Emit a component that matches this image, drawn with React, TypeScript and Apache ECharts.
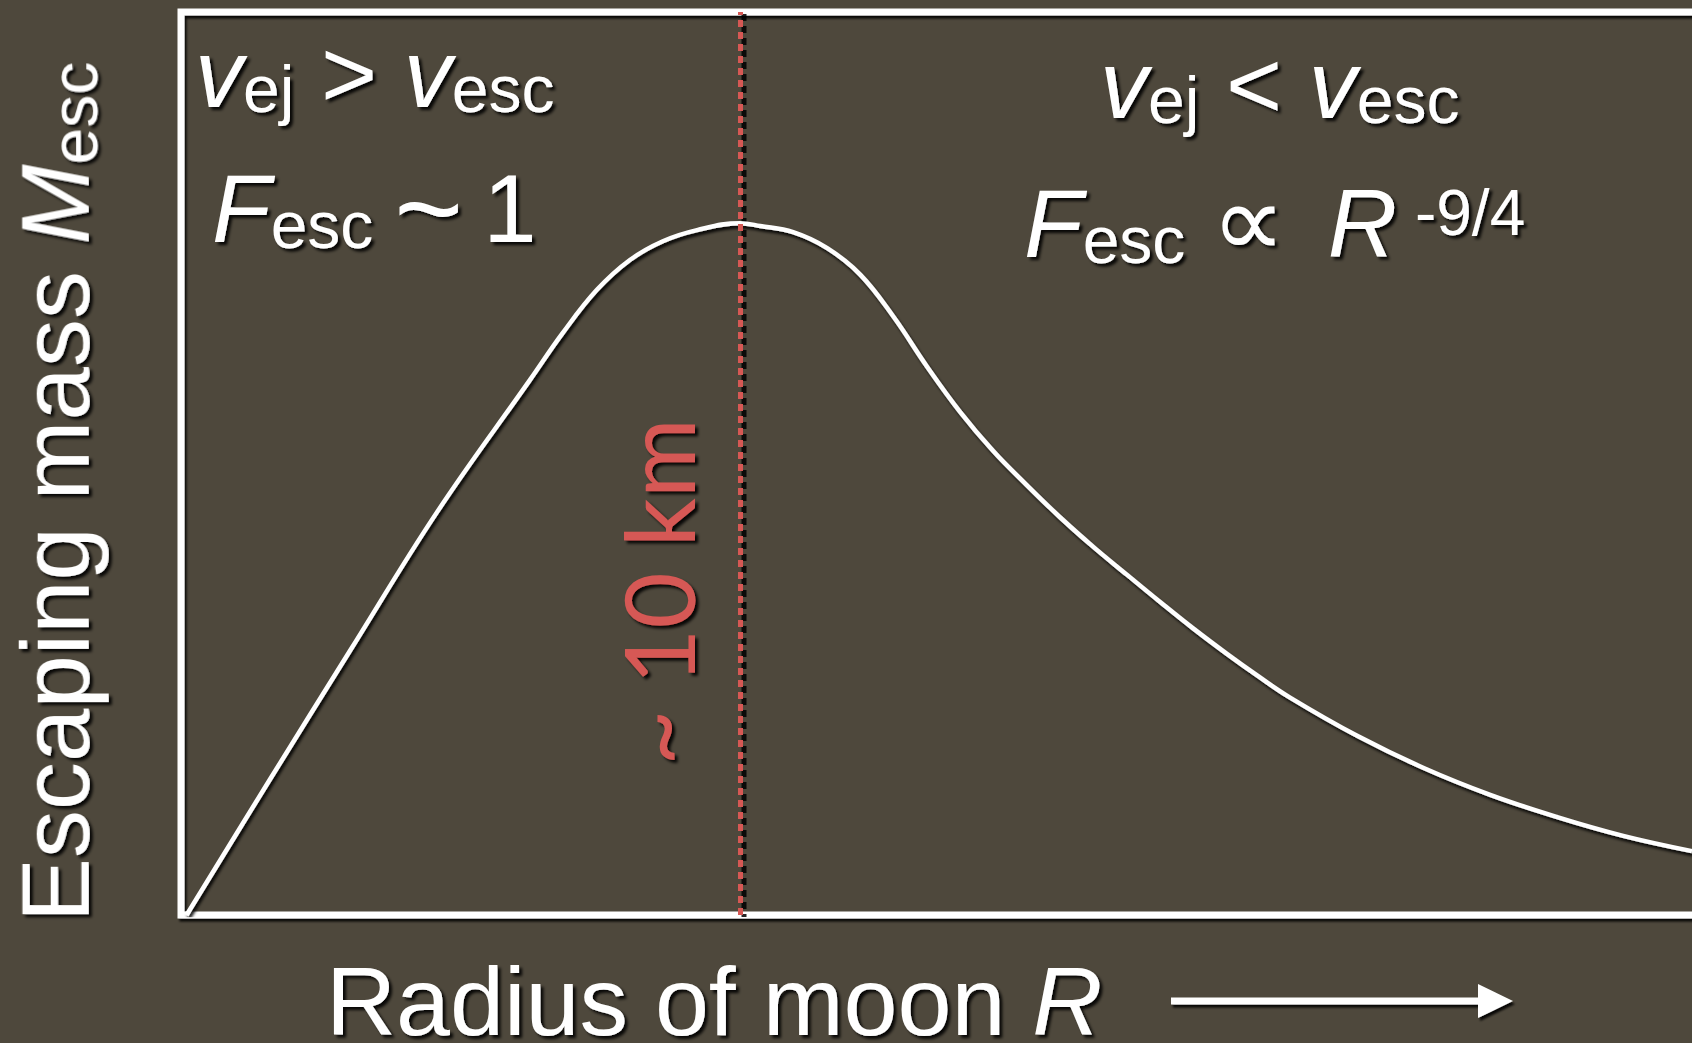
import React, { useEffect, useRef } from "react";
import * as echarts from "echarts";

// Escaping mass versus moon radius (normalised so the peak is ~1)
const radius = [
  0.1, 1.59, 3.02, 4.58, 6.24, 6.83, 7.44, 8.03, 8.62, 9.23, 10.0, 10.36, 10.95,
  11.56, 12.15, 12.74, 13.35, 13.94, 14.53, 15.13, 15.72, 16.32, 16.92, 17.51,
  18.1, 18.71, 19.25, 19.84, 21.04, 22.22, 23.42, 24.62, 25.8, 27.03,
];
const escapingMass = [
  0, 0.195, 0.38, 0.58, 0.77, 0.838, 0.9, 0.943, 0.97, 0.986, 0.996, 0.992,
  0.983, 0.96, 0.922, 0.862, 0.789, 0.724, 0.668, 0.619, 0.573, 0.53, 0.49,
  0.451, 0.413, 0.376, 0.345, 0.313, 0.258, 0.212, 0.173, 0.141, 0.114, 0.092,
];
// Radius where the escaping mass peaks (~10 km)
const peakRadius = [10];
const peakLabel = ["~ 10 km"];
const xRange = [0, 30];
const yRange = [0, 1.3];

const VIEW_W = 1692;
const VIEW_H = 1043;
const CANVAS_W = 1860; // plot frame runs on past the right edge of the view

const BG = "#4e483c";
const RED = "#d65854";
const SHADOW = "rgba(0,0,0,0.9)";
const SANS = "'Liberation Sans', 'DejaVu Sans', Arial, sans-serif";
const CENTRAL = 0.3465; // em distance from baseline to the em-box centre
const MAIN = 96;
const SUB = 66;

type Part = {
  t: string;
  size?: number;
  italic?: boolean;
  dy?: number;
  pad?: number;
  family?: string;
};

let measureCtx: CanvasRenderingContext2D | null = null;
function measure(font: string, text: string) {
  if (!measureCtx) measureCtx = document.createElement("canvas").getContext("2d");
  measureCtx!.font = font;
  return measureCtx!.measureText(text).width;
}

// Lays out a formula-like label (italics, sub/superscripts) along a baseline.
function formula(
  parts: Part[],
  x: number,
  y: number,
  rotation = 0,
  color = "#ffffff"
) {
  // shadow always falls down-right on screen, whatever the rotation
  const sx = rotation ? -3 : 3;
  const sy = 3;
  let cx = 0;
  const children = parts.map((p) => {
    const size = p.size ?? MAIN;
    const family = p.family ?? SANS;
    cx += p.pad ?? 0;
    const font = `${p.italic ? "italic " : ""}${size}px ${family}`;
    const w = measure(font, p.t);
    const el = {
      type: "text",
      x: cx,
      y: (p.dy ?? 0) - CENTRAL * size,
      silent: true,
      style: {
        text: p.t,
        fill: color,
        fontSize: size,
        fontFamily: family,
        fontStyle: p.italic ? "italic" : "normal",
        align: "left",
        verticalAlign: "middle",
        textShadowColor: SHADOW,
        textShadowBlur: 3,
        textShadowOffsetX: sx,
        textShadowOffsetY: sy,
      },
    };
    cx += w;
    return el;
  });
  return { type: "group", x, y, rotation, silent: true, z: 10, children };
}

export default function App() {
  const ref = useRef<HTMLDivElement>(null);

  useEffect(() => {
    const chart = echarts.init(ref.current!, null, {
      renderer: "svg",
      width: CANVAS_W,
      height: VIEW_H,
    });

    const curve = radius.map((r, i) => [r, escapingMass[i]]);

    const graphics: any[] = [
      // regime on the small-moon side
      formula(
        [
          { t: "v", italic: true },
          { t: "ej", size: SUB, dy: 5 },
          { t: " > " },
          { t: "v", italic: true },
          { t: "esc", size: SUB, dy: 5 },
        ],
        195,
        107
      ),
      formula(
        [
          { t: "F", italic: true },
          { t: "esc", size: SUB, dy: 6 },
          { t: "~", size: 118, pad: 21, dy: 7 },
          { t: "1", pad: 20 },
        ],
        212,
        242
      ),
      // regime on the large-moon side
      formula(
        [
          { t: "v", italic: true },
          { t: "ej", size: SUB, dy: 5 },
          { t: " < " },
          { t: "v", italic: true },
          { t: "esc", size: SUB, dy: 5 },
        ],
        1100,
        118
      ),
      formula(
        [
          { t: "F", italic: true },
          { t: "esc", size: SUB, dy: 6 },
          { t: "∝", size: 104, pad: 26, family: "'DejaVu Sans', sans-serif" },
          { t: "R", italic: true, pad: 42 },
          { t: "-9/4", size: 64, dy: -22, pad: 18 },
        ],
        1024,
        257
      ),
      // axis titles
      formula(
        [
          { t: "Escaping mass ", size: 96 },
          { t: "M", italic: true, size: 96 },
          { t: "esc", size: SUB, dy: 9 },
        ],
        88,
        922,
        Math.PI / 2
      ),
      formula(
        [{ t: "Radius of moon ", size: 97 }, { t: "R", italic: true, size: 97 }],
        326,
        1035
      ),
      // direction arrow after the x title
      {
        type: "rect",
        silent: true,
        z: 10,
        shape: { x: 1171, y: 997.5, width: 312, height: 7 },
        style: {
          fill: "#ffffff",
          shadowColor: SHADOW,
          shadowBlur: 2,
          shadowOffsetX: 2,
          shadowOffsetY: 3,
        },
      },
      {
        type: "polygon",
        silent: true,
        z: 10,
        shape: {
          points: [
            [1478, 984],
            [1513, 1001],
            [1478, 1018],
          ],
        },
        style: {
          fill: "#ffffff",
          shadowColor: SHADOW,
          shadowBlur: 2,
          shadowOffsetX: 2,
          shadowOffsetY: 3,
        },
      },
      // peak radius label beside the dashed marker
      {
        type: "text",
        silent: true,
        z: 10,
        x: 657,
        y: 592,
        rotation: Math.PI / 2,
        style: {
          text: peakLabel[0],
          fill: RED,
          fontSize: 97,
          fontFamily: "Lato, 'DejaVu Sans', sans-serif",
          align: "center",
          verticalAlign: "middle",
          textShadowColor: SHADOW,
          textShadowBlur: 3,
          textShadowOffsetX: -3,
          textShadowOffsetY: 3,
        },
      },
    ];

    const option: any = {
      animation: false,
      backgroundColor: BG,
      grid: {
        left: 181,
        top: 12,
        width: 1677,
        height: 903,
        show: true,
        backgroundColor: "transparent",
        borderColor: "#ffffff",
        borderWidth: 7,
        shadowColor: SHADOW,
        shadowBlur: 2,
        shadowOffsetX: 2,
        shadowOffsetY: 3,
        z: 1,
      },
      xAxis: {
        type: "value",
        min: xRange[0],
        max: xRange[1],
        show: false,
      },
      yAxis: {
        type: "value",
        min: yRange[0],
        max: yRange[1],
        show: false,
      },
      series: [
        {
          type: "line",
          data: curve,
          smooth: 0.4,
          showSymbol: false,
          silent: true,
          z: 3,
          lineStyle: {
            color: "#ffffff",
            width: 4.5,
            shadowColor: SHADOW,
            shadowBlur: 3,
            shadowOffsetX: 2,
            shadowOffsetY: 3,
          },
          markLine: {
            silent: true,
            symbol: ["none", "none"],
            label: { show: false },
            z: 5,
            lineStyle: {
              color: RED,
              width: 5,
              type: [7, 5],
            },
            data: peakRadius.map((r) => ({ xAxis: r })),
          },
        },
      ],
      graphic: graphics,
    };

    chart.setOption(option);

    // dark drop shadow of the dashed marker, placed through the axis scale
    const shadows = peakRadius.map((r) => {
      const [px, pyBottom] = chart.convertToPixel({ gridIndex: 0 }, [r, yRange[0]]);
      const [, pyTop] = chart.convertToPixel({ gridIndex: 0 }, [r, yRange[1]]);
      return {
        type: "line",
        silent: true,
        z: 2,
        shape: { x1: px + 4, y1: pyTop + 2, x2: px + 4, y2: pyBottom + 2 },
        style: { stroke: "rgba(0,0,0,0.85)", lineWidth: 5, lineDash: [7, 5] },
      };
    });
    chart.setOption({ graphic: [...graphics, ...shadows] });

    return () => chart.dispose();
  }, []);

  return (
    <div
      style={{
        position: "fixed",
        left: 0,
        top: 0,
        width: VIEW_W,
        height: VIEW_H,
        overflow: "hidden",
        background: BG,
      }}
    >
      <div ref={ref} style={{ width: CANVAS_W, height: VIEW_H }} />
    </div>
  );
}
